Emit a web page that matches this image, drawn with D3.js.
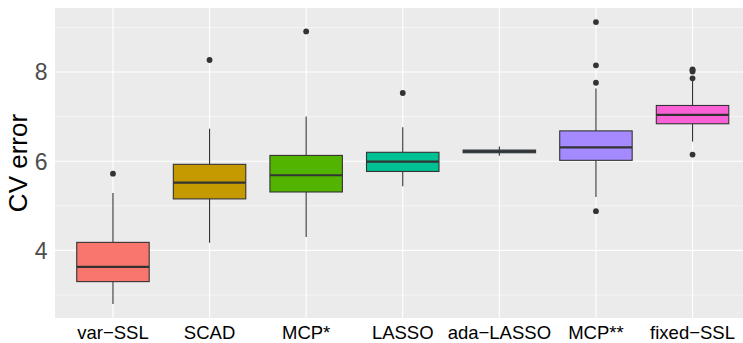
<!DOCTYPE html>
<html>
<head>
<meta charset="utf-8">
<script src="https://cdn.jsdelivr.net/npm/d3@7"></script>
<style>
  body { margin: 0; background: #fff; }
  text { font-family: "Liberation Sans", Arial, sans-serif; }
</style>
</head>
<body>
<div id="chart-area"></div>
<script>
// boxplot stats
const methods = ['var\u2212SSL', 'SCAD', 'MCP*', 'LASSO', 'ada\u2212LASSO', 'MCP**', 'fixed\u2212SSL'];
const lowerWhisker = [2.80, 4.17, 4.30, 5.44, 6.12, 5.20, 6.44];
const q1 = [3.30, 5.155, 5.31, 5.77, 6.19, 6.02, 6.84];
const median = [3.63, 5.52, 5.685, 5.99, 6.22, 6.31, 7.04];
const q3 = [4.18, 5.93, 6.13, 6.20, 6.25, 6.68, 7.25];
const upperWhisker = [5.29, 6.73, 7.00, 6.76, 6.33, 7.63, 7.80];
const outliers = [[5.72], [8.27], [8.91], [7.53], [], [9.12, 8.15, 7.76, 4.88], [8.06, 8.04, 8.01, 7.86, 6.15]];
const colors = ['#F8766D', '#C49A00', '#53B400', '#00C094', '#00B6EB', '#A58AFF', '#FB61D7'];
const yTicks = [4, 6, 8];
const yMinor = [3, 5, 7, 9];

const W = 743, H = 343;
const margin = { left: 55, top: 8, right: -7.5, bottom: 25 };
const width = W - margin.left - margin.right;
const height = H - margin.top - margin.bottom;

const data = methods.map((m, i) => ({
    name: m, lo: lowerWhisker[i], q1: q1[i], med: median[i], q3: q3[i],
    hi: upperWhisker[i], out: outliers[i], color: colors[i]
}));

const svg = d3.select('#chart-area')
    .append('svg')
    .attr('width', W)
    .attr('height', H);

const g = svg.append('g')
    .attr('transform', 'translate(' + margin.left + ', ' + margin.top + ')');

const x = d3.scaleBand()
    .domain(methods)
    .range([0, width])
    .paddingInner(0)
    .paddingOuter(0.1);

// ggplot style 5% expansion
const allVals = data.flatMap(d => [d.lo, d.hi].concat(d.out));
const lo = d3.min(allVals), hi = d3.max(allVals);
const pad = (hi - lo) * 0.05;
const y = d3.scaleLinear()
    .domain([lo - pad, hi + pad])
    .range([height, 0]);

const cx = (d) => x(d.name) + x.bandwidth() / 2;
const bw = x.step() * 0.75;

g.append('rect')
    .attr('width', width)
    .attr('height', height)
    .attr('fill', '#EBEBEB');

g.selectAll('.minor')
    .data(yMinor)
    .enter().append('line')
    .attr('x1', 0).attr('x2', width)
    .attr('y1', d => y(d)).attr('y2', d => y(d))
    .attr('stroke', '#fff').attr('stroke-width', 0.55);

g.selectAll('.major')
    .data(yTicks)
    .enter().append('line')
    .attr('x1', 0).attr('x2', width)
    .attr('y1', d => y(d)).attr('y2', d => y(d))
    .attr('stroke', '#fff').attr('stroke-width', 1.1);

g.selectAll('.vgrid')
    .data(data)
    .enter().append('line')
    .attr('x1', cx).attr('x2', cx)
    .attr('y1', 0).attr('y2', height)
    .attr('stroke', '#fff').attr('stroke-width', 1.1);

const box = g.selectAll('.box')
    .data(data)
    .enter().append('g');

box.append('line')
    .attr('x1', cx).attr('x2', cx)
    .attr('y1', d => y(d.hi)).attr('y2', d => y(d.q3))
    .attr('stroke', '#333').attr('stroke-width', 1.1);

box.append('line')
    .attr('x1', cx).attr('x2', cx)
    .attr('y1', d => y(d.q1)).attr('y2', d => y(d.lo))
    .attr('stroke', '#333').attr('stroke-width', 1.1);

box.append('rect')
    .attr('x', d => cx(d) - bw / 2)
    .attr('y', d => y(d.q3))
    .attr('width', bw)
    .attr('height', d => y(d.q1) - y(d.q3))
    .attr('fill', d => d.color)
    .attr('stroke', '#333')
    .attr('stroke-width', 1.1);

box.append('line')
    .attr('x1', d => cx(d) - bw / 2).attr('x2', d => cx(d) + bw / 2)
    .attr('y1', d => y(d.med)).attr('y2', d => y(d.med))
    .attr('stroke', '#333').attr('stroke-width', 2.2);

box.selectAll('circle')
    .data(d => d.out.map(v => ({ v: v, d: d })))
    .enter().append('circle')
    .attr('cx', p => cx(p.d))
    .attr('cy', p => y(p.v))
    .attr('r', 2.9)
    .attr('fill', '#333');

// axes text
g.selectAll('.ytick')
    .data(yTicks)
    .enter().append('text')
    .attr('x', -7.5)
    .attr('y', d => y(d) + 8.3)
    .attr('text-anchor', 'end')
    .attr('font-size', 23)
    .attr('fill', '#4D4D4D')
    .text(d => d);

g.selectAll('.xtick')
    .data(data)
    .enter().append('text')
    .attr('x', cx)
    .attr('y', height + 21)
    .attr('text-anchor', 'middle')
    .attr('font-size', 18.5)
    .attr('fill', '#000')
    .text(d => d.name);

svg.append('text')
    .attr('transform', 'translate(27, ' + (margin.top + height / 2) + ') rotate(-90)')
    .attr('text-anchor', 'middle')
    .attr('font-size', 26)
    .attr('fill', '#000')
    .text('CV error');
</script>
</body>
</html>
